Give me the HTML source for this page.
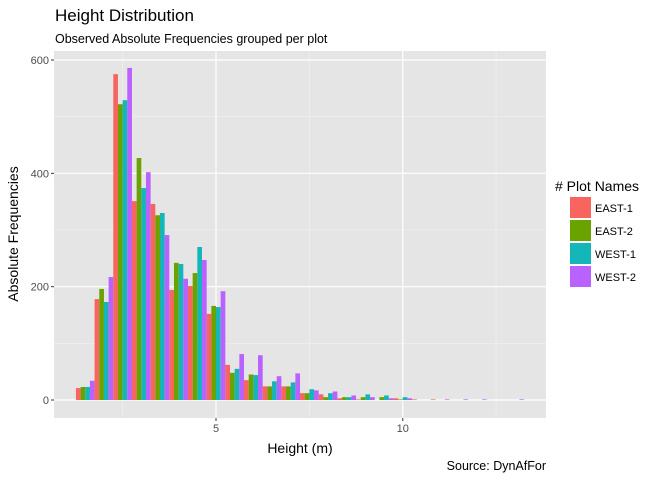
<!DOCTYPE html>
<html><head><meta charset="utf-8"><style>
body{margin:0;background:#fff;font-family:"Liberation Sans",sans-serif;}
svg{display:block}
</style></head><body>
<svg id="chart" width="672" height="480" xmlns="http://www.w3.org/2000/svg" font-family="Liberation Sans, sans-serif">
<rect x="0" y="0" width="672" height="480" fill="#fff"/>
<text x="55" y="21" font-size="17" fill="#000">Height Distribution</text>
<text x="55" y="43" font-size="12.5" fill="#000">Observed Absolute Frequencies grouped per plot</text>
<rect x="54" y="51" width="492" height="367" fill="#e5e5e5"/>
<g id="grid"></g>
<g id="bars"></g>
<g id="axes"></g>
<text x="300" y="453" font-size="14" text-anchor="middle" fill="#000">Height (m)</text>
<text transform="translate(18,234) rotate(-90)" font-size="14" text-anchor="middle" fill="#000">Absolute Frequencies</text>
<text x="546" y="470" font-size="12.5" text-anchor="end" fill="#000">Source: DynAfFor</text>
<g>
<text x="555" y="191" font-size="14" fill="#000"># Plot Names</text>
<g id="legend"></g>
</g>
</svg>
<script>
const centers = [1.5,2,2.5,3,3.5,4,4.5,5,5.5,6,6.5,7,7.5,8,8.5,9,9.5,10,10.5,11,11.5,12,12.5,13];
const seriesNames = ["EAST-1","EAST-2","WEST-1","WEST-2"];
const colors = ["#F8645E","#6AA200","#14B6B9","#BA62FF"];
const east1 = [21,178,575,351,346,194,201,152,62,35,24,24,12,10,3,1,0,3,1,1,0,0,0,0];
const east2 = [23,196,522,427,326,242,224,166,48,45,24,24,12,5,5,5,5,1,0,0,0,0,0,0];
const west1 = [23,173,529,374,330,240,270,164,55,44,33,31,19,12,5,10,8,5,0,0,0,0,0,0];
const west2 = [34,217,586,402,291,214,247,192,81,79,42,47,17,15,8,5,3,3,0,1,1,1,0,1];
const yTicks = [0,200,400,600];
const yMinor = [100,300,500];
const xTicks = [5,10];
const xMinor = [2.5,7.5,12.5];
const binWidth = 0.5;

const NS="http://www.w3.org/2000/svg";
const X0=54,X1=546,Y0=51,Y1=418;
function xs(v){return 216+(v-5)*37.35;}
function ys(v){return 400-v*(340/600);}
function mk(tag,attrs,parent){const e=document.createElementNS(NS,tag);for(const k in attrs)e.setAttribute(k,attrs[k]);parent.appendChild(e);return e;}
const grid=document.getElementById('grid'),bars=document.getElementById('bars'),axes=document.getElementById('axes'),legend=document.getElementById('legend');
yMinor.forEach(v=>{const l=mk('line',{x1:X0,x2:X1,y1:ys(v),y2:ys(v),stroke:'#f2f2f2','stroke-width':0.6},grid);

});
xMinor.forEach(v=>{const l=mk('line',{x1:xs(v),x2:xs(v),y1:Y0,y2:Y1,stroke:'#f2f2f2','stroke-width':0.6},grid);

});
yTicks.forEach(v=>{const l=mk('line',{x1:X0,x2:X1,y1:ys(v),y2:ys(v),stroke:'#fff','stroke-width':1.2},grid);


const t=mk('line',{x1:X0-3,x2:X0,y1:ys(v),y2:ys(v),stroke:'#333','stroke-width':1},axes);


const tx=mk('text',{x:X0-5,y:ys(v)+4,'font-size':11,'text-anchor':'end',fill:'#4d4d4d'},axes);tx.textContent=v;

});
xTicks.forEach(v=>{const l=mk('line',{x1:xs(v),x2:xs(v),y1:Y0,y2:Y1,stroke:'#fff','stroke-width':1.2},grid);


const t=mk('line',{x1:xs(v),x2:xs(v),y1:Y1,y2:Y1+3,stroke:'#333','stroke-width':1},axes);


const tx=mk('text',{x:xs(v),y:Y1+14,'font-size':11,'text-anchor':'middle',fill:'#4d4d4d'},axes);tx.textContent=v;

});
const series=[east1,east2,west1,west2];
centers.forEach((c,i)=>{
  const left=c-binWidth/2, w=binWidth/4;
  series.forEach((s,j)=>{
    const v=s[i]; if(!v) return;
    const x=xs(left+j*w), x2=xs(left+(j+1)*w);
    const r=mk('rect',{x:x,y:ys(v),width:x2-x,height:ys(0)-ys(v),fill:colors[j]},bars);
    
    
  });
});
seriesNames.forEach((n,j)=>{
  const y=197+j*23;
  const r=mk('rect',{x:570,y:y,width:21,height:21,fill:colors[j]},legend);
  
  
  const t=mk('text',{x:595,y:y+15,'font-size':11,fill:'#000'},legend);t.textContent=n;
  
  
});
</script>
</body></html>
